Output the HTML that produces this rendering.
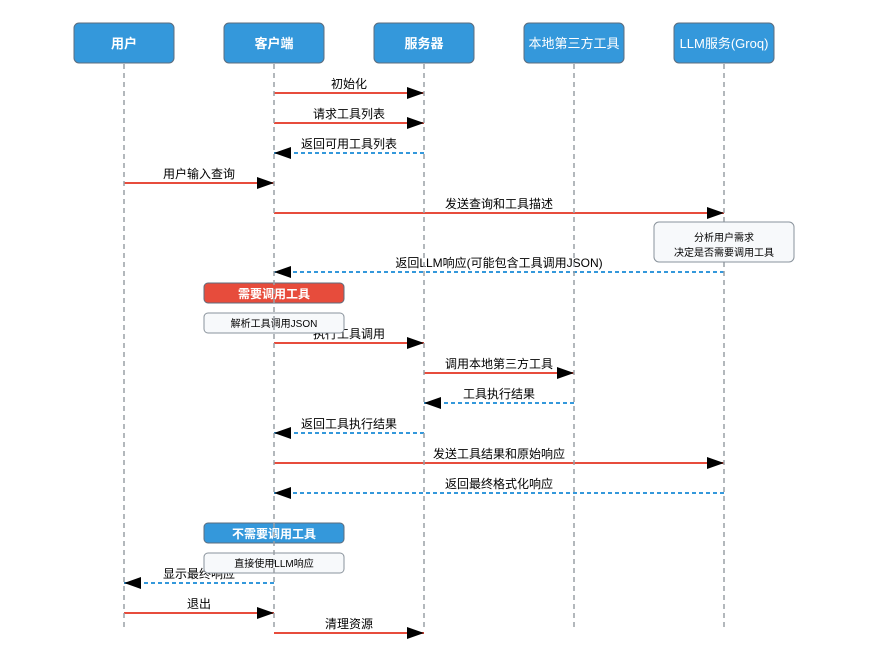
<!DOCTYPE html>
<html><head><meta charset="utf-8"><style>
html,body{margin:0;padding:0;background:#fff;}
svg{display:block;font-family:"Liberation Sans","Noto Sans CJK SC",sans-serif;}
</style></head><body>
<svg width="870" height="657" viewBox="0 0 870 657" xmlns="http://www.w3.org/2000/svg">
<defs>
<marker id="ah" markerWidth="18" markerHeight="12" refX="17" refY="6" orient="auto" markerUnits="userSpaceOnUse">
<path d="M0,0 L17,6 L0,12 Z" fill="#000"/></marker>
</defs>
<g fill="#3498db" stroke="#5d6d7e" stroke-width="1">
<rect x="74" y="23" width="100" height="40" rx="5"/>
<rect x="224" y="23" width="100" height="40" rx="5"/>
<rect x="374" y="23" width="100" height="40" rx="5"/>
<rect x="524" y="23" width="100" height="40" rx="5"/>
<rect x="674" y="23" width="100" height="40" rx="5"/>
</g>
<g fill="#fff" font-size="13" text-anchor="middle" font-weight="bold">
<text x="124" y="48">用户</text>
<text x="274" y="48">客户端</text>
<text x="424" y="48">服务器</text>
<text x="574" y="48" font-weight="normal">本地第三方工具</text>
<text x="724" y="48" font-weight="normal">LLM服务(Groq)</text>
</g>
<g stroke-width="2" fill="none">
<g stroke="#e74c3c" marker-end="url(#ah)">
<line x1="274" y1="93" x2="424" y2="93"/>
<line x1="274" y1="123" x2="424" y2="123"/>
<line x1="124" y1="183" x2="274" y2="183"/>
<line x1="274" y1="213" x2="724" y2="213"/>
<line x1="274" y1="343" x2="424" y2="343"/>
<line x1="424" y1="373" x2="574" y2="373"/>
<line x1="274" y1="463" x2="724" y2="463"/>
<line x1="124" y1="613" x2="274" y2="613"/>
<line x1="274" y1="633" x2="424" y2="633"/>
</g>
<g stroke="#3498db" stroke-dasharray="4,3" marker-end="url(#ah)">
<line x1="424" y1="153" x2="274" y2="153"/>
<line x1="724" y1="272" x2="274" y2="272"/>
<line x1="574" y1="403" x2="424" y2="403"/>
<line x1="424" y1="433" x2="274" y2="433"/>
<line x1="724" y1="493" x2="274" y2="493"/>
<line x1="274" y1="583" x2="124" y2="583"/>
</g>
</g>
<g font-size="12" fill="#000" text-anchor="middle">
<text x="349" y="88">初始化</text>
<text x="349" y="118">请求工具列表</text>
<text x="349" y="148">返回可用工具列表</text>
<text x="199" y="178">用户输入查询</text>
<text x="499" y="208">发送查询和工具描述</text>
<text x="499" y="267">返回LLM响应(可能包含工具调用JSON)</text>
<text x="349" y="338">执行工具调用</text>
<text x="499" y="368">调用本地第三方工具</text>
<text x="499" y="398">工具执行结果</text>
<text x="349" y="428">返回工具执行结果</text>
<text x="499" y="458">发送工具结果和原始响应</text>
<text x="499" y="488">返回最终格式化响应</text>
<text x="199" y="578">显示最终响应</text>
<text x="199" y="608">退出</text>
<text x="349" y="628">清理资源</text>
</g>
<rect x="204" y="283" width="140" height="20" rx="4" fill="#e74c3c" stroke="#5d6d7e"/>
<text x="274" y="298" font-size="12" fill="#fff" text-anchor="middle" font-weight="bold">需要调用工具</text>
<rect x="204" y="313" width="140" height="20" rx="4" fill="#f7f9fb" stroke="#8a939c"/>
<text x="274" y="327" font-size="10" fill="#000" text-anchor="middle">解析工具调用JSON</text>
<rect x="204" y="523" width="140" height="20" rx="4" fill="#3498db" stroke="#5d6d7e"/>
<text x="274" y="538" font-size="12" fill="#fff" text-anchor="middle" font-weight="bold">不需要调用工具</text>
<rect x="204" y="553" width="140" height="20" rx="4" fill="#f7f9fb" stroke="#8a939c"/>
<text x="274" y="567" font-size="10" fill="#000" text-anchor="middle">直接使用LLM响应</text>
<g stroke="#9aa0a6" stroke-width="1.5" stroke-dasharray="5,4">
<line x1="124" y1="64" x2="124" y2="630"/>
<line x1="274" y1="64" x2="274" y2="630"/>
<line x1="424" y1="64" x2="424" y2="630"/>
<line x1="574" y1="64" x2="574" y2="630"/>
<line x1="724" y1="64" x2="724" y2="630"/>
</g>
<rect x="654" y="222" width="140" height="40" rx="5" fill="#f7f9fb" stroke="#8a939c"/>
<text x="724" y="241" font-size="10" text-anchor="middle">分析用户需求</text>
<text x="724" y="256" font-size="10" text-anchor="middle">决定是否需要调用工具</text>
</svg>
</body></html>
